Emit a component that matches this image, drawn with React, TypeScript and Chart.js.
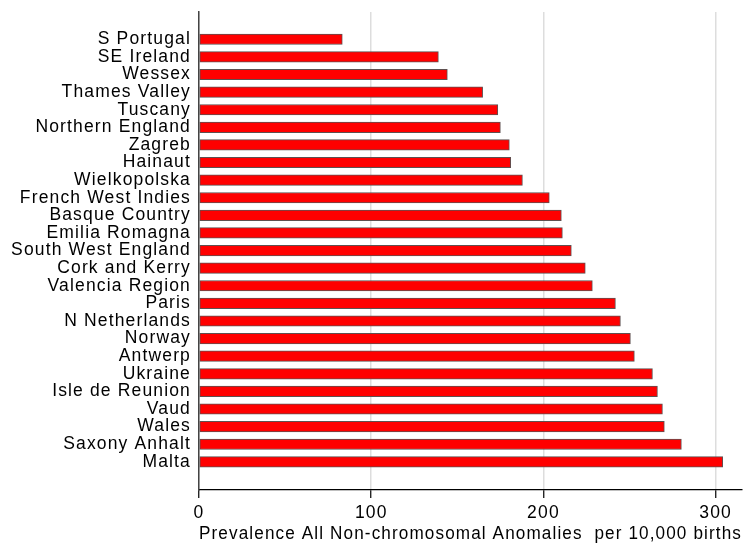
import React, { useEffect, useRef } from "react";
import { Chart, registerables } from "chart.js";

Chart.register(...registerables);

const regions: string[] = [
  "S Portugal",
  "SE Ireland",
  "Wessex",
  "Thames Valley",
  "Tuscany",
  "Northern England",
  "Zagreb",
  "Hainaut",
  "Wielkopolska",
  "French West Indies",
  "Basque Country",
  "Emilia Romagna",
  "South West England",
  "Cork and Kerry",
  "Valencia Region",
  "Paris",
  "N Netherlands",
  "Norway",
  "Antwerp",
  "Ukraine",
  "Isle de Reunion",
  "Vaud",
  "Wales",
  "Saxony Anhalt",
  "Malta",
];

const prevalence: number[] = [
  83.2, 139.0, 144.2, 164.7, 173.5, 175.0, 180.2, 181.0, 187.8, 203.4, 210.4,
  211.0, 216.2, 224.3, 228.4, 241.8, 244.7, 250.5, 252.8, 263.3, 266.2, 269.1,
  270.2, 280.1, 304.1,
];

const xTicks: number[] = [0, 100, 200, 300];
const xMax = 315.3;
const xTitle = "Prevalence All Non-chromosomal Anomalies  per 10,000 births";

const FONT = "'Liberation Sans', Arial, Helvetica, sans-serif";
const FONT_SIZE = 17.5;

const letterSpacingPlugin = {
  id: "letterSpacing",
  beforeDraw: (chart: any) => {
    const ctx = chart.ctx as any;
    if ("letterSpacing" in ctx) ctx.letterSpacing = "1.15px";
  },
};

export default function App() {
  const ref = useRef<HTMLCanvasElement | null>(null);

  useEffect(() => {
    if (!ref.current) return;
    const n = regions.length;
    const chart = new Chart(ref.current, {
      type: "bar",
      data: {
        datasets: [
          {
            data: prevalence.map((v, i) => ({ x: v, y: i })),
            backgroundColor: "#ff0000",
            borderColor: "#5e5050",
            borderWidth: 1,
            borderSkipped: false,
            barThickness: 10.5,
          },
        ],
      },
      plugins: [letterSpacingPlugin],
      options: {
        indexAxis: "y",
        animation: false,
        responsive: false,
        maintainAspectRatio: false,
        layout: { padding: { top: 12, right: 9, bottom: 0, left: 0 } },
        plugins: {
          legend: { display: false },
          tooltip: { enabled: false },
        },
        scales: {
          x: {
            type: "linear",
            position: "bottom",
            offset: false,
            min: 0,
            max: xMax,
            afterBuildTicks: (scale: any) => {
              scale.ticks = xTicks.map((v) => ({ value: v }));
            },
            afterFit: (scale: any) => {
              scale.height = 54;
              scale.paddingLeft = 0;
              scale.paddingRight = 0;
            },
            grid: {
              display: true,
              offset: false,
              color: "#dddddd",
              lineWidth: 1.5,
              drawTicks: true,
              tickLength: 8,
              tickColor: "#000000",
              tickWidth: 1.2,
            },
            border: { display: true, color: "#000000", width: 1.2 },
            ticks: {
              color: "#000000",
              font: { family: FONT, size: FONT_SIZE },
              padding: 5,
              maxRotation: 0,
              autoSkip: false,
            },
            title: {
              display: true,
              text: xTitle,
              color: "#000000",
              font: { family: FONT, size: FONT_SIZE },
              padding: { top: 0, bottom: -1 },
            },
          },
          y: {
            type: "linear",
            reverse: true,
            offset: false,
            min: -1.55,
            max: n - 1 + 1.6,
            afterBuildTicks: (scale: any) => {
              scale.ticks = regions.map((_, i) => ({ value: i }));
            },
            afterFit: (scale: any) => {
              scale.width = 199;
              scale.paddingTop = 0;
              scale.paddingBottom = 0;
            },
            grid: { display: false, drawTicks: false, offset: false },
            border: { display: true, color: "#444444", width: 1.5 },
            ticks: {
              color: "#000000",
              font: { family: FONT, size: FONT_SIZE },
              padding: 8,
              autoSkip: false,
              callback: (value: any) => regions[Math.round(Number(value))] ?? "",
            },
          },
        },
      },
    });
    return () => chart.destroy();
  }, []);

  return (
    <div
      style={{
        position: "fixed",
        left: 0,
        top: 0,
        width: 751,
        height: 544,
        background: "#ffffff",
      }}
    >
      <canvas ref={ref} width={751} height={544} style={{ display: "block" }} />
    </div>
  );
}
